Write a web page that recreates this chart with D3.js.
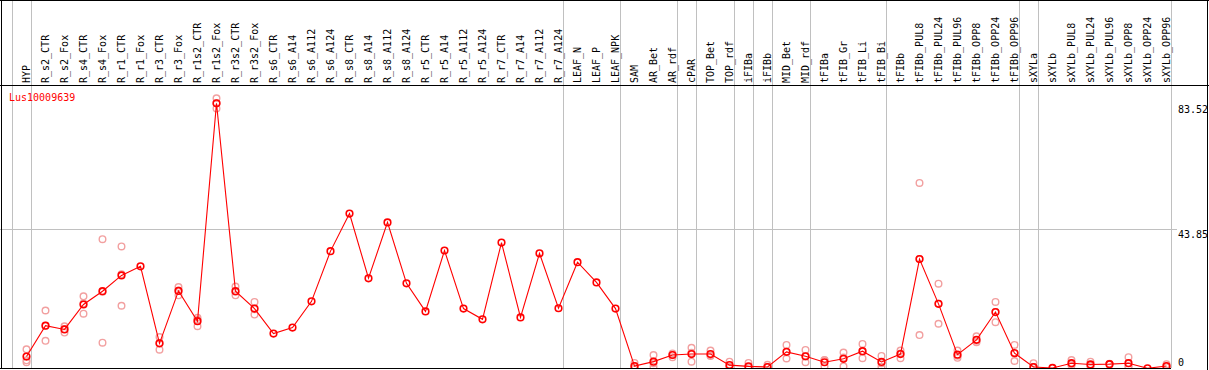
<!DOCTYPE html>
<html>
<head>
<meta charset="utf-8">
<script src="https://cdn.jsdelivr.net/npm/d3@7"></script>
<style>
  body { margin: 0; background: #fff; }
  svg { display: block; font-family: "DejaVu Sans Mono", monospace; font-size: 10px; }
</style>
</head>
<body>
<div class="chart"></div>
<script>
// categories, in drawing order
const categories = [
    "HYP", "R_s2_CTR", "R_s2_Fox", "R_s4_CTR", "R_s4_Fox", "R_r1_CTR", "R_r1_Fox",
    "R_r3_CTR", "R_r3_Fox", "R_r1s2_CTR", "R_r1s2_Fox", "R_r3s2_CTR", "R_r3s2_Fox",
    "R_s6_CTR", "R_s6_A14", "R_s6_A112", "R_s6_A124", "R_s8_CTR", "R_s8_A14", "R_s8_A112", "R_s8_A124",
    "R_r5_CTR", "R_r5_A14", "R_r5_A112", "R_r5_A124", "R_r7_CTR", "R_r7_A14", "R_r7_A112", "R_r7_A124",
    "LEAF_N", "LEAF_P", "LEAF_NPK", "SAM", "AR_Bet", "AR_rdf", "cPAR", "TOP_Bet", "TOP_rdf",
    "iFIBa", "iFIBb", "MID_Bet", "MID_rdf", "tFIBa", "tFIB_Gr", "tFIB_Li", "tFIB_Bi",
    "tFIBb", "tFIBb_PUL8", "tFIBb_PUL24", "tFIBb_PUL96", "tFIBb_OPP8", "tFIBb_OPP24", "tFIBb_OPP96",
    "sXYLa", "sXYLb", "sXYLb_PUL8", "sXYLb_PUL24", "sXYLb_PUL96", "sXYLb_OPP8", "sXYLb_OPP24", "sXYLb_OPP96"
];

// mean expression per category
const meanValues = [
    3.3, 13.1, 11.9, 19.8, 24.0, 29.0, 31.9,
    7.5, 24.1, 14.5, 83.52, 24.0, 18.5,
    10.6, 12.5, 20.8, 36.7, 48.6, 28.1, 45.8, 26.5,
    17.6, 36.9, 18.5, 15.1, 39.4, 15.7, 36.0, 18.6,
    33.2, 26.8, 18.5, 0.3, 1.7, 3.8, 4.1, 4.1, 0.6,
    0.2, 0.0, 4.8, 3.4, 1.5, 2.6, 5.0, 1.6,
    4.1, 34.2, 20.0, 3.9, 8.6, 17.4, 4.4,
    0.0, -0.3, 1.2, 0.8, 0.9, 1.2, -0.4, 0.3
];

// replicates (null = no replicate drawn)
const rep1 = [
    5.6, 17.9, 12.9, 22.4, 40.5, 38.2, null,
    9.5, 25.3, 15.6, 85.1, 25.5, 20.6,
    null, null, null, null, null, null, null, null,
    null, null, null, null, null, null, null, null,
    null, null, null, 1.3, 3.8, 4.3, 6.1, 5.2, 1.7,
    1.3, 0.7, 7.0, 5.4, 2.2, 4.6, 7.3, 3.5,
    5.2, 58.3, 26.4, 5.2, 9.7, 20.6, 7.0,
    1.2, null, 2.2, 1.7, 1.0, 3.1, null, 0.9
];
const rep2 = [
    2.1, 8.3, 10.9, 16.9, 7.7, 19.4, null,
    5.5, 22.7, 12.9, 81.9, 22.7, 16.6,
    null, null, null, null, null, null, null, null,
    null, null, null, null, null, null, null, null,
    null, null, null, 0.2, 0.1, 3.1, 1.7, 3.5, 0.1,
    0.0, 0.0, 2.7, 1.5, 0.2, 0.2, 2.8, 0.1,
    2.8, 10.1, 13.7, 2.9, 7.8, 14.2, 1.9,
    0.0, null, 0.5, 0.4, 0.8, 0.3, null, 0.1
];
const rep3 = [
    1.5, 13.1, 12.0, 20.1, 23.8, 29.4, null,
    7.5, 24.2, 15.0, 83.5, 23.8, 18.3,
    null, null, null, null, null, null, null, null,
    null, null, null, null, null, null, null, null,
    null, null, null, 0.0, 1.2, 3.9, 4.5, 3.7, 0.0,
    0.0, 0.0, 4.7, 3.3, 2.1, 3.0, 4.9, 1.2,
    4.3, 34.2, 20.0, 3.6, 8.3, 17.4, 4.3,
    0.0, null, 0.9, 0.3, 0.9, 0.2, null, 0.0
];

// separator lines come after these category indexes (-1 = before the first)
const groupEnds = [-1, 0, 28, 31, 34, 35, 37, 38, 39, 41, 45, 52, 53, 60];

const tickValues = [83.52, 43.85, 0];
const geneName = "Lus10009639";

const W = 1209, H = 370;
const headerBottom = 85, plotBottom = 368, plotRight = 1170;

let svg = d3.select(".chart")
    .append("svg")
    .attr("width", W)
    .attr("height", H);

let x = d3.scaleBand()
    .domain(categories)
    .range([11.5, 11.5 + 19 * categories.length]);
const px = c => x(c) + 15;

let y = d3.scaleLinear()
    .domain([0, 83.52])
    .range([367, 103.3]);

// vertical separators
svg.append("g")
    .selectAll("line")
    .data(groupEnds)
    .enter()
    .append("line")
    .attr("x1", i => Math.round(x.range()[0] + 19 * (i + 1)) + 0.5)
    .attr("x2", i => Math.round(x.range()[0] + 19 * (i + 1)) + 0.5)
    .attr("y1", 0)
    .attr("y2", plotBottom)
    .attr("stroke", "#c0c0c0");

// horizontal grid at the middle tick
svg.append("line")
    .attr("x1", 0)
    .attr("x2", 1177)
    .attr("y1", Math.round(y(43.85)) + 0.5)
    .attr("y2", Math.round(y(43.85)) + 0.5)
    .attr("stroke", "#c0c0c0");

// category labels, rotated
svg.append("g")
    .selectAll("text")
    .data(categories)
    .enter()
    .append("text")
    .attr("transform", c => "translate(" + (px(c) + 3.5) + "," + (headerBottom - 2) + ")rotate(-90)")
    .attr("fill", "#000")
    .text(c => c);

// right side value labels
svg.append("g")
    .selectAll("text")
    .data(tickValues)
    .enter()
    .append("text")
    .attr("x", 1178)
    .attr("y", v => Math.min(y(v) + 9.5, 366))
    .attr("fill", "#000")
    .text(v => v);

// gene label
svg.append("text")
    .attr("x", 9)
    .attr("y", 100.5)
    .attr("fill", "#ff0000")
    .text(geneName);

let clip = svg.append("clipPath").attr("id", "plotclip")
    .append("rect")
    .attr("x", 2).attr("y", headerBottom + 1)
    .attr("width", plotRight).attr("height", plotBottom - headerBottom - 1);

let plot = svg.append("g").attr("clip-path", "url(#plotclip)");

// replicate circles
let reps = [];
[rep1, rep2, rep3].forEach(arr => {
    arr.forEach((v, i) => { if (v !== null) reps.push({ c: categories[i], v: v }); });
});
plot.append("g")
    .selectAll("circle")
    .data(reps)
    .enter()
    .append("circle")
    .attr("cx", d => px(d.c))
    .attr("cy", d => y(d.v))
    .attr("r", 3.3)
    .attr("fill", "none")
    .attr("stroke", "#f2a0a0")
    .attr("stroke-width", 1.4);

// mean line
let points = categories.map((c, i) => ({ c: c, v: meanValues[i] }));
plot.append("path")
    .datum(points)
    .attr("d", d3.line().x(d => px(d.c)).y(d => y(d.v)))
    .attr("fill", "none")
    .attr("stroke", "#ff0000")
    .attr("stroke-width", 1.1);

plot.append("g")
    .selectAll("circle")
    .data(points)
    .enter()
    .append("circle")
    .attr("cx", d => px(d.c))
    .attr("cy", d => y(d.v))
    .attr("r", 3.3)
    .attr("fill", "none")
    .attr("stroke", "#ff0000")
    .attr("stroke-width", 1.6);

// frame
const frame = [
    [0, 0.5, W, 0.5],
    [1.5, 0, 1.5, plotBottom + 1],
    [1207.5, 0, 1207.5, H],
    [0, headerBottom + 0.5, W, headerBottom + 0.5],
    [0, plotBottom + 0.5, plotRight + 1, plotBottom + 0.5]
];
svg.append("g")
    .selectAll("line")
    .data(frame)
    .enter()
    .append("line")
    .attr("x1", d => d[0]).attr("y1", d => d[1])
    .attr("x2", d => d[2]).attr("y2", d => d[3])
    .attr("stroke", "#000");
</script>
</body>
</html>
